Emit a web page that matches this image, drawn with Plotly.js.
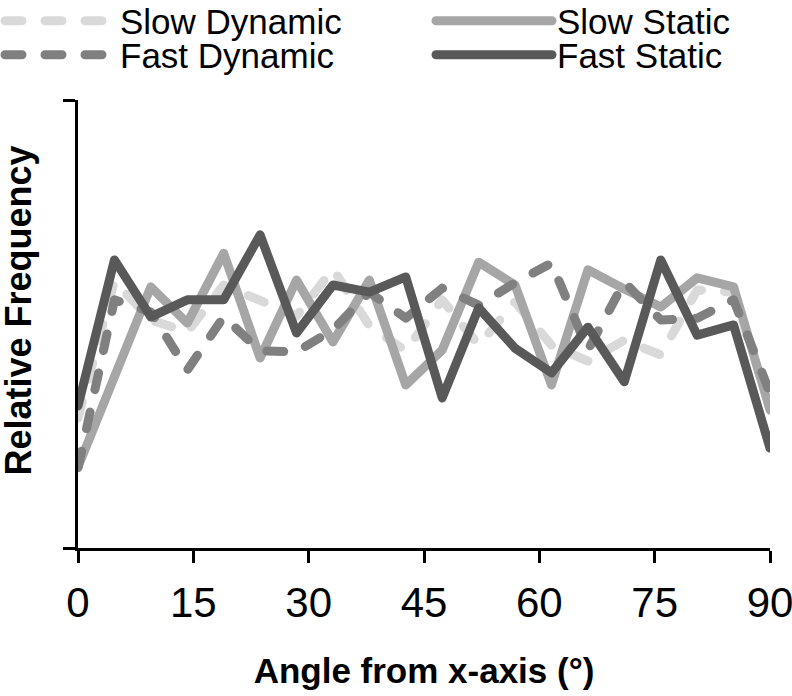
<!DOCTYPE html>
<html>
<head>
<meta charset="utf-8">
<script src="https://cdn.plot.ly/plotly-3.0.1.min.js"></script>
<style>
    html, body { margin: 0; padding: 0; background: #fff; }
    #chart { width: 792px; height: 696px; }
    /* rounded dash ends like the original */
    .scatterlayer path.js-line, .legendlines path.js-line { stroke-linecap: round; stroke-linejoin: round; }
</style>
</head>
<body>
<div id="chart"></div>
<script>
// Angle bins (deg) and relative frequency (%) per bin
const angles = [0, 4.74, 9.47, 14.21, 18.95, 23.68, 28.42, 33.16, 37.89, 42.63,
                47.37, 52.11, 56.84, 61.58, 66.32, 71.05, 75.79, 80.53, 85.26, 90];

const slowDynamic = [2.90, 5.96, 5.09, 4.82, 5.87, 5.54, 5.18, 6.23, 4.96, 4.40,
                     5.54, 4.53, 5.49, 4.53, 4.17, 4.64, 4.31, 5.76, 5.71, 3.13];
const slowStatic  = [1.81, 3.82, 5.83, 5.02, 6.58, 4.24, 5.98, 4.60, 5.98, 3.64,
                     4.42, 6.38, 5.87, 3.64, 6.21, 5.78, 5.38, 6.03, 5.83, 3.08];
const fastDynamic = [1.79, 5.54, 5.27, 3.97, 5.16, 4.40, 4.38, 4.87, 5.71, 5.13,
                     5.80, 5.42, 5.92, 6.36, 4.42, 5.94, 5.09, 5.13, 5.54, 3.46];
const fastStatic  = [3.17, 6.43, 5.16, 5.54, 5.54, 6.99, 4.80, 5.87, 5.71, 6.05,
                     3.35, 5.36, 4.46, 3.91, 4.93, 3.71, 6.43, 4.75, 4.98, 2.23];

const xTicks = [0, 15, 30, 45, 60, 75, 90];
const yTicks = [0, 10];

const COLORS = {
    slowDyn:  '#d9d9d9',
    slowStat: '#a6a6a6',
    fastDyn:  '#808080',
    fastStat: '#595959',
    axis:     '#000000',
};

const SANS = "'Liberation Sans', Arial, sans-serif";
const DASH = '17px,23px';
const LW = 9;

function series(name, y, color, dash, legend) {
    return {
        x: angles, y, name, type: 'scatter', mode: 'lines',
        line: { color, width: LW, dash },
        legend,
    };
}

const traces = [
    series('Slow Dynamic', slowDynamic, COLORS.slowDyn,  DASH,    'legend'),
    series('Slow Static',  slowStatic,  COLORS.slowStat, 'solid', 'legend2'),
    series('Fast Dynamic', fastDynamic, COLORS.fastDyn,  DASH,    'legend3'),
    series('Fast Static',  fastStatic,  COLORS.fastStat, 'solid', 'legend4'),
];

// one legend box per entry so the 2x2 grid sits where the original has it
function legendAt(x, yPx, itemwidth) {
    return {
        xref: 'container', yref: 'container',
        x, xanchor: 'left',
        y: 1 - yPx / 696, yanchor: 'middle',
        itemwidth,
        font: { family: SANS, size: 35, color: '#000' },
        bgcolor: 'rgba(0,0,0,0)',
    };
}

const layout = {
    width: 792, height: 696,
    paper_bgcolor: '#fff', plot_bgcolor: '#fff',
    margin: { t: 100, r: 22, b: 148, l: 78, autoexpand: false },
    font: { family: SANS, color: '#000' },
    showlegend: true,
    legend:  legendAt(0,         21, 110),
    legend2: legendAt(431 / 792, 21, 116),
    legend3: legendAt(0,         55, 110),
    legend4: legendAt(431 / 792, 55, 116),
    xaxis: {
        range: [0, 90], tickvals: xTicks, ticktext: xTicks.map(String),
        ticks: 'outside', ticklen: 12, tickwidth: 3, tickcolor: COLORS.axis,
        showline: true, linewidth: 3, linecolor: COLORS.axis,
        showgrid: false, zeroline: false,
        ticklabeloverflow: 'allow', ticklabelstandoff: 4,
        tickfont: { family: SANS, size: 42, color: '#000' },
        title: { text: '<b>Angle from x-axis (°)</b>', font: { family: SANS, size: 35, color: '#000' }, standoff: 34 },
    },
    yaxis: {
        range: [0, 10], tickvals: yTicks, showticklabels: false,
        ticks: 'outside', ticklen: 12, tickwidth: 3, tickcolor: COLORS.axis,
        showline: true, linewidth: 3, linecolor: COLORS.axis,
        showgrid: false, zeroline: false,
    },
    // y title as a rotated annotation: the axis has no tick labels to hang a title on
    annotations: [{
        text: '<b>Relative Frequency</b>', textangle: -90, showarrow: false,
        xref: 'paper', yref: 'paper', x: -0.086, y: 0.531,
        xanchor: 'center', yanchor: 'middle', borderpad: 0,
        font: { family: SANS, size: 36, color: '#000' },
    }],
};

Plotly.newPlot('chart', traces, layout, { displayModeBar: false, staticPlot: true });
</script>
</body>
</html>
